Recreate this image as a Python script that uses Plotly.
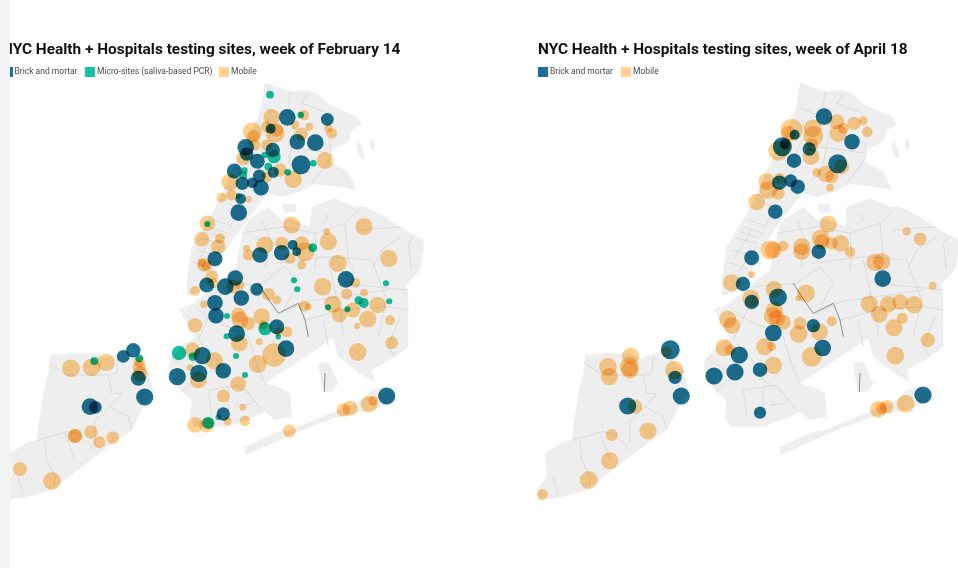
import plotly.graph_objects as go

# map outlines, polygons split by None
land_x = [265,290,306.7,316.7,330,358.3,361.7,351.7,348.3,341.7,331.7,330,348.3,356.7,338.3,315,300,281.7,266.7,258.3,243.3,228.3,216.7,218.3,198.3,186.7,186.7,191.7,215,238.3,258.3,261.7,265,None,
          243.3,248.3,268.3,281.7,288.3,310,311.7,335,355,365,381.7,400,423.3,424,420,406,408.3,408.3,395,371.7,375,361.7,338.3,333.3,308.3,280,265,281.7,290,291.7,275,265,251.7,228.3,195,190,191.7,178.3,168.3,170,185,195,188.3,181.7,188.3,201.7,211.7,221.7,235,243.3,None,
          281.7,295,296.7,285,281.7,None,
          371.7,375,372,370,371.7,None,
          358,363,365,360,356.7,358,None,
          318.3,328.3,338.3,331.7,323.3,320,318.3,None,
          245,278.3,290,315,338.3,361.7,371.7,385,398.3,371.7,338.3,315,290,268.3,245,245,None,
          50,70,95,105,125,135,148.3,153.3,141.7,131.7,108.3,95,78.3,51.7,21.7,1.7,1.7,11.7,10,28.3,36.7,38.3,43.3,48.3,50,None,
          178,187,183,178]
land_y = [82.7,91.7,90,93.3,105,117.3,125,130,141.7,145,150,161.7,171.7,190,186.7,184,191.7,196.7,193.3,205,225,246.7,266.7,276.7,293.3,295,280,246.7,208.3,156.7,116.7,105,82.7,None,
          230,220,206.7,220,218.3,226.7,206.7,198.3,206.7,206.7,215,226.7,240,250,270,285,293.3,346.7,356.7,370,382,375,356.7,338.3,355,373.3,383.3,388.3,393.3,416.7,420,411.7,418.3,426.7,426.7,418.3,400,388.3,370,360,343.3,338.3,326.7,315,306.7,296.7,290,280,270,230,None,
          205,203.3,211.7,213.3,205,None,
          138,145,151.7,145,138,None,
          140,150,160,156.7,146.7,140,None,
          363.3,361.7,383.3,391.7,391.7,376.7,363.3,None,
          446.7,431.7,430,420,410,400,390,386.7,400,410,416.7,425,435,445,455,446.7,None,
          355,353.3,353.3,358.3,351.7,356.7,370,391.7,410,430,446.7,456.7,470,490,498.3,500.7,490,476.7,453.3,441.7,440,426.7,393.3,373.3,355,None,
          310,305,313,310]

# neighbourhood borders
border_x = [290,288.3,295,288.3,None,301.7,308.3,None,301.7,328.3,None,288.3,265,None,266.7,271.7,261.7,258.3,None,330,331.7,311.7,None,288.3,310,None,285,328,None,
            208.3,228.3,None,201.7,221.7,None,216.7,198.3,None,228.3,241.7,None,235,228.3,None,
            213,232,None,205,225,None,197,217,None,192,212,None,222,203,None,
            261.7,271.7,265,None,241.7,281.7,315,345,358.3,None,345,348.3,353.3,None,315,316.7,315,None,358.3,401.7,None,401.7,381.7,371.7,None,413.3,408.3,411.7,None,321.7,328.3,325,None,276.7,328.3,371.7,None,
            328.3,341.7,343.3,None,371.7,386.7,378.3,None,341.7,408.3,None,281.7,305,341.7,388.3,None,305,341.7,388.3,408.3,None,323.3,328.3,None,400,388.3,395,None,
            221.7,208.3,228.3,248.3,None,195,208.3,198.3,216.7,228.3,248.3,None,248.3,258.3,265,None,171.7,198.3,181.7,None,208.3,211.7,None,228.3,228.3,None,208.3,241.7,261.7,None,235,251.7,None,208,262,None,262,285,298.3,281.7,None,
            50,66.7,95,108.3,111.7,121.7,110,95,95,None,118.3,116.7,108.3,None,110,128.3,131.7,None,38.3,66.7,78.3,95,None,45,46.7,55,54.3,None,18.3,23.3,None,65,75]
border_y = [91.7,105,130,163.3,None,103.3,93,None,103.3,113.3,None,116.7,108.3,None,118.3,133.3,150,173.3,None,143.3,156.7,183.3,None,163.3,173.3,None,146.7,153,None,
            226.7,233.3,None,238.3,243.3,None,230,260,None,203.3,208.3,None,216.7,230,None,
            220,226,None,232,238,None,250,256,None,262,268,None,246,272,None,
            220,243.3,266.7,None,233.3,226.7,233.3,223.3,210,None,223.3,260,270,None,233.3,256.7,270,None,230,226.7,None,236.7,250,270,None,236.7,243.3,270,None,223.3,220,213.3,None,263.3,256.7,260,None,
            260,320,336.7,None,260,300,336.7,None,283.3,290,None,313.3,301.7,296.7,290,None,320,310,306.7,310,None,320,346.7,None,316.7,346.7,356.7,None,
            293.3,318.3,326.7,336.7,None,306.7,318.3,340,360,380,393.3,None,336.7,370,383.3,None,358.3,375,391.7,None,390,415,None,388.3,413.3,None,390,385,410,None,405,403.3,None,288,283,None,283,266.7,283.3,313.3,None,
            363,375,375,375,393.3,393.3,406.7,420,443.3,None,356.7,373.3,375,None,406.7,416.7,430,None,440,431.7,433.3,450,None,440,460,476.7,486.7,None,476.7,495,None,433.3,460]
creek_x = [258.3,266.7,278.3,298.3,305,308.3,None,325,324.3]
creek_y = [283.3,296.7,313.3,303.3,320,336.7,None,373,391.7]

# week of February 14
feb_brick_x = [287.3,327.3,270.7,297.3,315.3,245.7,246.7,272.7,257.3,301,234.3,273.3,259.3,242.3,252.3,261,240.7,238.7,215,260,281.7,292.7,296.7,346,206.7,225.3,235.3,256.7,241.3,215,216,236.7,276.7,286,202.3,223.3,198.7,177.3,133.3,123.3,138.3,144.7,90,95.3,223.3,386.7]
feb_brick_y = [117.3,119.3,128.7,141.7,142.7,147.3,154,150,161.3,164.7,171,172.3,176,183.3,182.7,187.7,198.7,212.7,258.7,255,252.7,245,251.7,279.3,285,286.7,278,289.3,298,302.7,315.7,333.7,326.7,348.7,355.7,370.7,373.3,376.7,350.3,356.3,378.3,397,406.7,407.3,414,396]
feb_brick_size = [15,11.5,9,14,15,15,12,13,13.5,17,13.5,10,11.5,12,9.5,14,9.5,15,13.5,14,14,9,8,15,13.5,15,14,11.5,14,14,14,15,13.5,15,15.5,14,15.5,15.5,13,11.5,13.5,15.5,15,11.5,12,15.5]

feb_micro_x = [270,300.7,265,274,313.3,287.7,268.3,244.3,243.3,238.7,207.3,312.7,294,297.3,386,358.7,363.7,389.3,328,347.3,227,265,226.7,278.3,236,245,179,192.7,94.3,139.3,208.3,218.3]
feb_micro_y = [94.7,115,155,156.7,163.3,172.3,166.7,170.7,175,195.7,224,247.7,280.3,289.3,283.3,300.3,303,301.3,307.3,309.3,316,328.7,336.3,336.7,356,375,353,356.7,361,358.3,423,417.3]
feb_micro_size = [7,6,6,12,6,6,7,6,7,5,5.5,8,5.5,5.5,5.5,7.5,9,5.5,5.5,5.5,5.5,12,5.5,5,5.5,5.5,13,7.5,7,7,11,5]

feb_mobile_x = [252.3,253.3,271.7,304,275,266.7,276.7,266.7,295,301.7,309.3,328.3,331.7,243.3,255,325,280,293.3,266.7,230,231.7,221.7,248.3,207.3,201.7,220,218.3,204,291.7,364,328.3,326.7,265,281.7,301.7,305,246.7,248.3,290,301.7,338,388.7,
                206.7,201.7,195,211.7,213.3,233.3,240,268.3,276.7,204,322.7,355.3,346.7,364,304,308.3,332.7,339.3,352.7,377.7,367.7,390,357.3,195,238.3,240,248.3,261.7,263.3,286.7,278.3,239.3,259.3,391.7,357.7,274,257.7,192.7,214.3,190,198.3,238.3,223.3,242.7,245,227.7,195,206.7,289.3,343.3,350,369,373.3,
                71,91.7,106,139.3,140,139.3,75,75,91,99.3,112.7,20,52]
feb_mobile_y = [131.7,136.7,117.3,115,133.3,126.7,130,145,125,134,126.7,128.3,133.3,158.3,145,160.7,170,179.3,176.7,182,195,197.7,199.3,223.3,239.3,238.3,246.7,265,225,226.7,241.7,231.7,245,243.3,243.3,251.7,248.3,255,258.3,265,263.3,258.3,
                266,262.7,291,276.7,283.3,286.7,285,294.3,300,304.3,286.7,282.7,294,292.7,306,306.7,304,315,310,305,319,320.3,326,325.3,315,320,323.3,316.7,325,331.7,331.7,343.3,341.7,342.7,352,355,364,350,360.7,367.3,380,384,396,407.3,420.7,421,425,425,431,410,408.3,404.3,400.7,
                368.3,367.3,362.3,367.3,374,361.7,436,436,432,442.3,437.7,469,481]
feb_mobile_size = [17,12,15,9.5,17,10,12,10,8,11.5,7,7.5,9.5,13,10,15,12,15.5,10,15.5,10,9,6,14,13.5,9,13,12,15.5,15.5,15.5,6,15.5,12,13,17,6,10,10,8,15.5,15.5,
                   9,7.5,9,11.5,9,12,8,11.5,8,7,16,9,10,7,10,6,15.5,13.5,13.5,15,15.5,9,5.5,13,13.5,15,12,15,8,10,8,15,6,11.5,16,21,16,13.5,15.5,5.5,15,14,11.5,6,9.5,7,14,13.5,11.5,12,13.5,15,9,
                   16,16,15.5,12,13.5,10,12.5,12.5,12,11,11.5,12.5,16]

# week of April 18
apr_brick_x = [289,317,259.7,247.3,250,274.3,259,302.7,244.3,255.7,262.7,240.3,216.7,283.7,347.7,208,243,216.7,278.3,238.3,287.7,204.3,225,200,179,135.3,140,146.3,92.7,225,388]
apr_brick_y = [116.7,141.7,134.7,146.7,144,149,160.7,163.7,182.7,180.7,186.7,211.7,257.7,251.7,278.7,284,297.3,302,325.7,333,348,355,369.7,372,376,349.7,377.3,396,406,412.7,395]
apr_brick_size = [15,14,9,17,9,12,13,17,13,11.5,13,13,13.5,13,15,13,16,13,12,15,15,15.5,13,15.5,15.5,17,12,15.5,15.5,11,15.5]

apr_mobile_x = [256.7,253.3,277.7,278.3,276,276.7,301.7,303.3,308.3,319,328.3,332.3,243.3,251.7,281.7,291,296.7,306.7,295,231.7,233.3,243.3,245,221.7,293.3,285.7,286.7,296.7,305.7,315,266.7,266.7,235,238.3,248.3,371.7,385,340,346.7,
                196.7,216.7,239,271,263.3,216,334.3,344.3,353.3,365,379,367.3,359,397.7,296.7,192.7,196.7,239.3,237.7,241.7,248.3,265,263.7,284.3,392.7,360.3,229.7,236.7,276.7,238.3,189,195,
                73,74.3,95.7,94.3,95,139.3,131.7,100,113,76.7,74.7,53.7,7.7,343.3,351.7,346.7,370.7]
apr_mobile_y = [130,133.3,128.3,136,156.7,145,121.7,133.3,128.3,123.3,120.7,131.7,150.7,145,172.7,174,176.7,166.7,187.7,181.7,190,193.3,178.3,202,224,238.3,241.7,243.3,243.3,251.7,246.7,251.7,250,250,246,231.3,239,262.3,261.7,
                282.7,274.7,289.3,293.3,298.3,298.3,304,314.3,304.3,302,304.7,318.3,327.7,285.7,321.3,319.3,325.7,310,316,318.3,322.3,323.3,334,331.7,340,355.7,346.7,346.7,356.7,365.3,347.7,350,
                366.7,376.7,356,366.7,370,370,351.7,406.7,431,435,460.7,480,494.3,409.3,406.7,408.3,403.7]
apr_mobile_size = [20,13.5,16,18,15,12,13.5,15.5,10,12,8,9.5,18,10,8,15,12,13.5,7,15,16,11.5,10,15,15.5,16,13.5,11,15,9.5,15.5,15,17,15,9.5,7.5,11.5,15.5,15.5,
                   15.5,6,15,16,5.5,15.5,15.5,15,15,14,15.5,10,15.5,7,9,15.5,15,15,16,15,13.5,11.5,16,15.5,13,16,15.5,8,18,15.5,15.5,10,
                   16,15.5,15.5,17,15.5,16.5,10,13,15.5,11,15.5,16,9.5,15,12,10,16]

feb_title = "NYC Health + Hospitals testing sites, week of February 14"
apr_title = "NYC Health + Hospitals testing sites, week of April 18"
brick_label = "Brick and mortar"
micro_label = "Micro-sites (saliva-based PCR)"
mobile_label = "Mobile"

BRICK = "#1e7193"
MICRO = "#14c4a2"
MOBILE = "#ffd08e"
FONT = "Roboto"


def sites(x, y, size, color, xa, ya):
    # array sizes make plotly default to 0.7 opacity, the blend needs it solid
    return go.Scatter(x=x, y=y, mode="markers", xaxis=xa, yaxis=ya, hoverinfo="skip",
                      marker=dict(size=size, sizemode="diameter", sizeref=0.9, color=color, opacity=1, line=dict(width=0)))


def base_map(xa, ya):
    fig.add_trace(go.Scatter(x=land_x, y=land_y, mode="lines", fill="toself", fillcolor="#eeeeee",
                             line=dict(width=0), xaxis=xa, yaxis=ya, hoverinfo="skip"))
    fig.add_trace(go.Scatter(x=border_x, y=border_y, mode="lines", line=dict(color="#cfcfcf", width=0.6),
                             xaxis=xa, yaxis=ya, hoverinfo="skip"))
    fig.add_trace(go.Scatter(x=creek_x, y=creek_y, mode="lines", line=dict(color="#808080", width=0.9),
                             xaxis=xa, yaxis=ya, hoverinfo="skip"))


def key(x, label, color, xa, ya):
    fig.add_trace(go.Scatter(x=[x], y=[72], mode="markers", xaxis=xa, yaxis=ya, hoverinfo="skip",
                             marker=dict(symbol="square", size=10, color=color, line=dict(width=0))))
    fig.add_trace(go.Scatter(x=[x + 7], y=[72], mode="text", text=[label], textposition="middle right",
                             textfont=dict(family=FONT, size=8.5, color="#4a4a4a"),
                             xaxis=xa, yaxis=ya, hoverinfo="skip"))


def heading(x, label, xa, ya):
    fig.add_trace(go.Scatter(x=[x], y=[50.5], mode="text", text=["<b>" + label + "</b>"], textposition="middle right",
                             textfont=dict(family=FONT, size=15.4, color="#111111"),
                             xaxis=xa, yaxis=ya, hoverinfo="skip"))


fig = go.Figure()

base_map("x", "y")
fig.add_trace(sites(feb_mobile_x, feb_mobile_y, feb_mobile_size, MOBILE, "x", "y"))
fig.add_trace(sites(feb_micro_x, feb_micro_y, feb_micro_size, MICRO, "x", "y"))
fig.add_trace(sites(feb_brick_x, feb_brick_y, feb_brick_size, BRICK, "x", "y"))
heading(2, feb_title, "x", "y")
key(7.5, brick_label, BRICK, "x", "y")
key(90, micro_label, MICRO, "x", "y")
key(224, mobile_label, MOBILE, "x", "y")

base_map("x2", "y2")
fig.add_trace(sites(apr_mobile_x, apr_mobile_y, apr_mobile_size, MOBILE, "x2", "y2"))
fig.add_trace(sites(apr_brick_x, apr_brick_y, apr_brick_size, BRICK, "x2", "y2"))
heading(3, apr_title, "x2", "y2")
key(8, brick_label, BRICK, "x2", "y2")
key(91, mobile_label, MOBILE, "x2", "y2")

hidden = dict(visible=False, fixedrange=True)
fig.update_layout(
    width=958, height=568, margin=dict(l=0, r=0, t=0, b=0), showlegend=False,
    paper_bgcolor="white", plot_bgcolor="rgba(0,0,0,0)",
    xaxis=dict(domain=[10 / 958, 520 / 958], range=[10, 520], **hidden),
    yaxis=dict(domain=[0, 1], range=[568, 0], **hidden),
    xaxis2=dict(domain=[530 / 958, 1], range=[-5, 423], anchor="y2", **hidden),
    yaxis2=dict(domain=[0, 1], range=[568, 0], anchor="x2", **hidden),
    shapes=[dict(type="rect", xref="paper", yref="paper", x0=0, x1=10 / 958, y0=0, y1=1,
                 fillcolor="#f1f3f4", line=dict(width=0), layer="below")],
)

# the source map overlaps its circles with a multiply blend
blend = """
document.body.style.margin = '0';
document.querySelectorAll('.scatterlayer path.point').forEach(function (p) {
    p.style.mixBlendMode = 'multiply';
});
"""
fig.write_html("out.html", post_script=blend, config={"displayModeBar": False})
